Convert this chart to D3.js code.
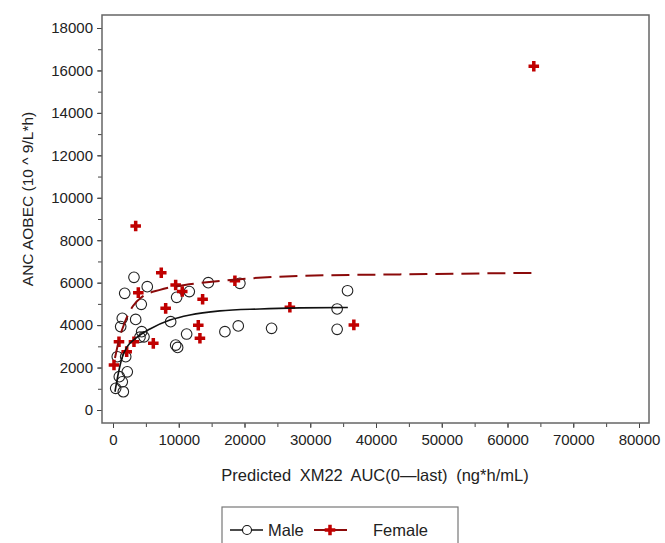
<!DOCTYPE html>
<html>
<head>
<meta charset="utf-8">
<script src="https://cdn.jsdelivr.net/npm/d3@7"></script>
<style>
  body { margin: 0; background: #fff; }
  text { font-family: "Liberation Sans", Arial, sans-serif; }
</style>
</head>
<body>
<script>
// values
const maleX = [3190, 5210, 1780, 4300, 9680, 11600, 14490, 19300, 1410, 3450, 1170, 8770, 4360, 4710, 4100,
  11200, 9530, 9830, 17020, 19050, 24120, 34090, 35670, 34090, 650, 1930, 2170, 960, 1410, 410, 1570]
const maleY = [6250, 5810, 5500, 4980, 5310, 5580, 6000, 5970, 4320, 4270, 3930, 4160, 3690, 3450, 3430,
  3580, 3060, 2950, 3690, 3960, 3850, 4760, 5620, 3800, 2510, 2510, 1800, 1570, 1330, 1020, 860]

const femaleX = [64000, 3450, 7340, 9530, 10530, 3850, 18540, 13630, 8010, 12970, 13220, 26900, 36630,
  6130, 3190, 910, 2080, 150]
const femaleY = [16200, 8670, 6470, 5890, 5580, 5530, 6090, 5220, 4790, 3990, 3380, 4840, 4010,
  3140, 3220, 3220, 2750, 2120]

const maleFitX = [300, 760, 1370, 2130, 3340, 5620, 8660, 11700, 16260, 22340, 28420, 35720]
const maleFitY = [860, 1650, 2450, 2970, 3350, 3820, 4240, 4480, 4670, 4760, 4810, 4830]

const femaleFitX = [300, 910, 1820, 3040, 4410, 7140, 10940, 16260, 28420, 43620, 64000]
const femaleFitY = [2450, 3300, 4150, 4900, 5330, 5660, 5890, 6080, 6320, 6390, 6460]

const xTicks = [0, 10000, 20000, 30000, 40000, 50000, 60000, 70000, 80000]
const yTicks = [0, 2000, 4000, 6000, 8000, 10000, 12000, 14000, 16000, 18000]

const xTitle = "Predicted XM22 AUC(0\u2014last) (ng*h/mL)"
const yTitle = "ANC AOBEC (10 ^ 9/L*h)"

const width = 665, height = 543
const frame = {left: 102, top: 15, right: 649, bottom: 423}
const red = "#c00000", darkRed = "#8b0a0a"

let svg = d3.select("body").append("svg")
    .attr("width", width)
    .attr("height", height)

let x = d3.scaleLinear().domain([0, 80000]).range([113, 639])
let y = d3.scaleLinear().domain([0, 18000]).range([410, 28])

let male = maleX.map((d, i) => ({x: d, y: maleY[i]}))
let female = femaleX.map((d, i) => ({x: d, y: femaleY[i]}))
let maleFit = maleFitX.map((d, i) => ({x: d, y: maleFitY[i]}))
let femaleFit = femaleFitX.map((d, i) => ({x: d, y: femaleFitY[i]}))

// axes (minor ticks first, then labelled major ticks)
svg.append("g")
    .attr("transform", `translate(0,${frame.bottom})`)
    .call(d3.axisBottom(x).tickValues(d3.range(0, 80001, 5000)).tickSize(4).tickFormat(""))
    .call(g => g.select(".domain").remove())
    .call(g => g.selectAll("line").attr("stroke", "#444"))

svg.append("g")
    .attr("transform", `translate(0,${frame.bottom})`)
    .call(d3.axisBottom(x).tickValues(xTicks).tickSize(5).tickPadding(6).tickFormat(d3.format("d")))
    .call(g => g.select(".domain").remove())
    .call(g => g.selectAll("line").attr("stroke", "#444"))
    .call(g => g.selectAll("text").attr("font-size", 15).attr("fill", "#222")
        .attr("font-family", "Liberation Sans, Arial, sans-serif"))

svg.append("g")
    .attr("transform", `translate(${frame.left},0)`)
    .call(d3.axisLeft(y).tickValues(d3.range(0, 18001, 1000)).tickSize(4).tickFormat(""))
    .call(g => g.select(".domain").remove())
    .call(g => g.selectAll("line").attr("stroke", "#444"))

svg.append("g")
    .attr("transform", `translate(${frame.left},0)`)
    .call(d3.axisLeft(y).tickValues(yTicks).tickSize(5).tickPadding(4).tickFormat(d3.format("d")))
    .call(g => g.select(".domain").remove())
    .call(g => g.selectAll("line").attr("stroke", "#444"))
    .call(g => g.selectAll("text").attr("font-size", 15).attr("fill", "#222")
        .attr("font-family", "Liberation Sans, Arial, sans-serif"))

svg.append("rect")
    .attr("x", frame.left)
    .attr("y", frame.top)
    .attr("width", frame.right - frame.left)
    .attr("height", frame.bottom - frame.top)
    .attr("fill", "none")
    .attr("stroke", "#666")
    .attr("stroke-width", 1.5)

// titles
svg.append("text")
    .attr("x", 375)
    .attr("y", 481)
    .attr("text-anchor", "middle")
    .attr("font-size", 16.5)
    .attr("word-spacing", 4)
    .attr("fill", "#222")
    .text(xTitle)

svg.append("text")
    .attr("transform", `translate(33,${199}) rotate(-90)`)
    .attr("text-anchor", "middle")
    .attr("font-size", 15.5)
    .attr("fill", "#222")
    .text(yTitle)

// points
svg.append("g")
    .attr("fill", "none")
    .attr("stroke", "#222")
    .attr("stroke-width", 1.1)
  .selectAll("circle")
  .data(male)
  .join("circle")
    .attr("cx", d => x(d.x))
    .attr("cy", d => y(d.y))
    .attr("r", 5.3)

let plus = d3.symbol().type(d3.symbolCross).size(62)

svg.append("g")
    .attr("fill", red)
  .selectAll("path")
  .data(female)
  .join("path")
    .attr("transform", d => `translate(${x(d.x)},${y(d.y)})`)
    .attr("d", plus)

// fitted curves
let line = d3.line()
    .x(d => x(d.x))
    .y(d => y(d.y))
    .curve(d3.curveMonotoneX)

svg.append("path")
    .datum(maleFit)
    .attr("fill", "none")
    .attr("stroke", "#111")
    .attr("stroke-width", 1.6)
    .attr("d", line)

svg.append("path")
    .datum(femaleFit)
    .attr("fill", "none")
    .attr("stroke", darkRed)
    .attr("stroke-width", 2)
    .attr("stroke-dasharray", "18,8")
    .attr("d", line)

// legend
let legend = svg.append("g")

legend.append("rect")
    .attr("x", 222)
    .attr("y", 507)
    .attr("width", 236)
    .attr("height", 44)
    .attr("fill", "#fff")
    .attr("stroke", "#777")
    .attr("stroke-width", 1.2)

legend.append("line")
    .attr("x1", 230).attr("x2", 263)
    .attr("y1", 530).attr("y2", 530)
    .attr("stroke", "#111")
    .attr("stroke-width", 1.6)

legend.append("circle")
    .attr("cx", 247).attr("cy", 530).attr("r", 4.5)
    .attr("fill", "#fff")
    .attr("stroke", "#111")
    .attr("stroke-width", 1.1)

legend.append("text")
    .attr("x", 268).attr("y", 536)
    .attr("font-size", 16.5)
    .attr("fill", "#222")
    .text("Male")

legend.append("line")
    .attr("x1", 314).attr("x2", 347)
    .attr("y1", 530).attr("y2", 530)
    .attr("stroke", darkRed)
    .attr("stroke-width", 2)

legend.append("path")
    .attr("transform", "translate(330,530)")
    .attr("fill", red)
    .attr("d", plus)

legend.append("text")
    .attr("x", 373).attr("y", 536)
    .attr("font-size", 16.5)
    .attr("fill", "#222")
    .text("Female")
</script>
</body>
</html>
